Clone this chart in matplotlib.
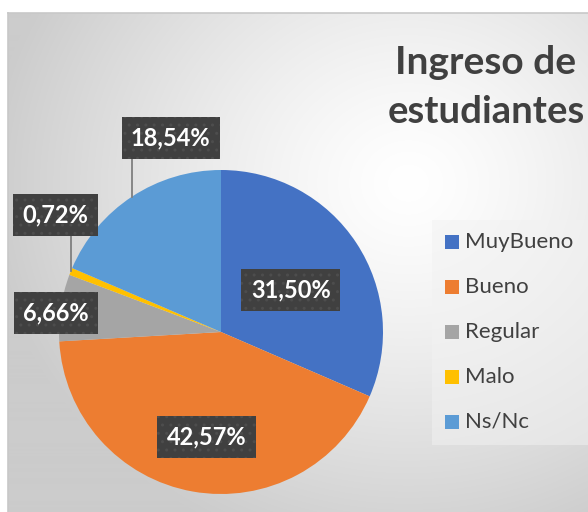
import matplotlib.pyplot as plt
import numpy as np

categorias = ['MuyBueno', 'Bueno', 'Regular', 'Malo', 'Ns/Nc']
porcentajes = [31.50, 42.57, 6.66, 0.72, 18.54]
colores = ['#4472C4', '#ED7D31', '#A5A5A5', '#FFC000', '#5B9BD5']
etiquetas = ['31,50%', '42,57%', '6,66%', '0,72%', '18,54%']
# posiciones de las etiquetas (coordenadas del pastel, radio 1)
pos_etiquetas = [(0.43, 0.26), (-0.09, -0.65), (-1.02, 0.12), (-1.02, 0.72), (-0.31, 1.20)]
con_linea = [False, False, False, True, True]

W, H = 588, 512
fig = plt.figure(figsize=(W / 100, H / 100), dpi=100)
fig.patch.set_facecolor('white')

# fondo del area del grafico: degradado radial
bg = fig.add_axes([8 / W, 0, 1 - 8 / W, 1 - 13 / H])
yy, xx = np.mgrid[0:500, 0:580]
d = np.sqrt(((xx - 400) / 420.0) ** 2 + ((yy - 170) / 380.0) ** 2)
d = np.clip(d, 0, 1)
val = 1.0 - 0.2 * d ** 1.3
bg.imshow(np.dstack([val, val, val]), extent=[0, 1, 0, 1], origin='upper', aspect='auto')
bg.set_xticks([])
bg.set_yticks([])
for s in ['right', 'bottom']:
    bg.spines[s].set_visible(False)
for s in ['left', 'top']:
    bg.spines[s].set_color('#c8c8c8')
    bg.spines[s].set_linewidth(1.2)

# pastel
cx, cy, r = 221, 332, 162
ax = fig.add_axes([(cx - r) / W, (H - cy - r) / H, 2 * r / W, 2 * r / H])
ax.set_facecolor('none')
wedges, _ = ax.pie(porcentajes, colors=colores, startangle=90, counterclock=False,
                   radius=1, wedgeprops=dict(linewidth=0))
ax.set_xlim(-1, 1)
ax.set_ylim(-1, 1)
ax.set_aspect('equal')
ax.axis('off')

total = sum(porcentajes)
acum = 0
for i, p in enumerate(porcentajes):
    medio = 90 - (acum + p / 2) / total * 360
    acum += p
    tx, ty = pos_etiquetas[i]
    if con_linea[i]:
        ex, ey = np.cos(np.radians(medio)), np.sin(np.radians(medio))
        ax.plot([ex, ex], [ey, ty - 0.1], color='#7f7f7f', lw=1.3,
                clip_on=False, zorder=3)
    ax.text(tx, ty, etiquetas[i], ha='center', va='center', color='white',
            fontsize=17, fontweight='bold', family=['Lato', 'DejaVu Sans'], zorder=5,
            bbox=dict(boxstyle='square,pad=0.4', facecolor='#404040', edgecolor='#4d4d4d',
                      hatch='..', linewidth=0))

# titulo
fig.text(486 / W, 1 - 62 / H, 'Ingreso de', ha='center', va='center', fontsize=28,
         fontweight='bold', color='#404040', family=['Lato', 'DejaVu Sans'])
fig.text(486 / W, 1 - 112 / H, 'estudiantes', ha='center', va='center', fontsize=27.5,
         fontweight='bold', color='#404040', family=['Lato', 'DejaVu Sans'])

# leyenda
fig.patches.append(plt.Rectangle((432 / W, 1 - 445 / H), 160 / W, 225 / H,
                                 transform=fig.transFigure, facecolor='#f2f2f2',
                                 edgecolor='none', alpha=0.5, zorder=1))
for i, nombre in enumerate(categorias):
    y = 242 + 45 * i
    fig.patches.append(plt.Rectangle((445 / W, 1 - (y + 7) / H), 14 / W, 14 / H,
                                     transform=fig.transFigure, facecolor=colores[i],
                                     edgecolor='none', zorder=2))
    fig.text(465 / W, 1 - y / H, nombre, ha='left', va='center', fontsize=16,
             color='#404040', family=['Lato', 'DejaVu Sans'])

fig.savefig('out.png', dpi=100)
